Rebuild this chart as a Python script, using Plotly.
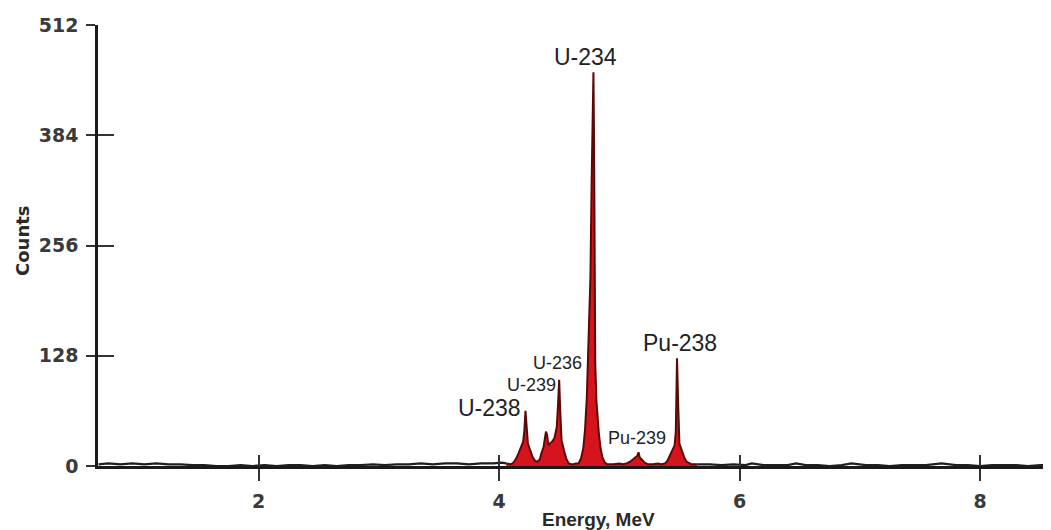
import numpy as np
import plotly.graph_objects as go

# ---- data (energy in MeV, counts) ----
energy = [0.67, 0.75, 0.85, 0.95, 1.05, 1.15, 1.25, 1.35, 1.45, 1.55, 1.65, 1.75, 1.85, 1.95,
          2.05, 2.15, 2.25, 2.35, 2.45, 2.55, 2.65, 2.75, 2.85, 2.95, 3.05, 3.15, 3.25, 3.35,
          3.45, 3.55, 3.65, 3.75, 3.85, 3.95, 4.02, 4.06,
          4.10, 4.12, 4.14, 4.16, 4.18, 4.20, 4.21, 4.22, 4.23, 4.24, 4.26, 4.28, 4.30, 4.32, 4.34,
          4.35, 4.37, 4.38, 4.39, 4.40, 4.41, 4.42, 4.44, 4.46, 4.48, 4.49, 4.50, 4.51, 4.52,
          4.54, 4.56, 4.58, 4.60, 4.62, 4.64,
          4.66, 4.68, 4.70, 4.715, 4.73, 4.745, 4.76, 4.77, 4.78, 4.785, 4.79, 4.795, 4.80,
          4.81, 4.82, 4.83, 4.845, 4.86, 4.88, 4.90, 4.95, 5.00, 5.03,
          5.06, 5.09, 5.12, 5.15, 5.16, 5.17, 5.19, 5.21, 5.24, 5.28, 5.32, 5.35,
          5.38, 5.40, 5.42, 5.44, 5.46, 5.47, 5.48, 5.49, 5.50, 5.52, 5.54, 5.56, 5.58, 5.60,
          5.65, 5.75, 5.85, 5.95, 6.05, 6.10, 6.20, 6.30, 6.40, 6.47, 6.55, 6.65, 6.75, 6.85,
          6.93, 7.05, 7.15, 7.25, 7.35, 7.45, 7.55, 7.68, 7.80, 7.90, 8.00, 8.10, 8.20, 8.30,
          8.40, 8.50, 8.59]
counts = [2, 3, 2, 3, 2, 3, 2, 2, 1, 1, 0, 0, 1, 0,
          1, 0, 1, 1, 0, 1, 0, 1, 1, 2, 1, 2, 2, 3,
          2, 3, 3, 2, 3, 3, 4, 3,
          2, 4, 8, 14, 20, 28, 40, 64, 45, 26, 18, 10, 6, 5, 8,
          14, 22, 30, 40, 36, 24, 26, 28, 32, 45, 70, 100, 60, 30,
          18, 8, 3, 2, 2, 3,
          3, 8, 20, 42, 80, 140, 220, 330, 440, 457, 380, 250, 120,
          75, 50, 38, 20, 10, 4, 2, 2, 3, 2,
          3, 5, 8, 12, 16, 10, 7, 4, 2, 2, 3, 2,
          3, 6, 12, 18, 24, 40, 125, 70, 26, 18, 10, 5, 3, 2,
          2, 2, 1, 2, 1, 3, 1, 1, 1, 3, 1, 1, 0, 1,
          3, 1, 1, 0, 1, 1, 1, 3, 1, 1, 0, 1, 1, 1,
          0, 1, 1]

peak_window = [4.06, 5.65]          # energy span drawn as filled (red) peaks
y_ticks = [0, 128, 256, 384, 512]
x_ticks = [2, 4, 6, 8]

labels = ["U-234", "Pu-238", "U-238", "U-236", "U-239", "Pu-239"]
label_x = [4.715, 5.505, 3.917, 4.482, 4.266, 5.148]
label_y = [475, 143, 67, 120, 94, 32.5]
label_size = [23, 23, 23, 18, 18, 18]

E = np.array(energy)
C = np.array(counts)
mask = (E >= peak_window[0]) & (E <= peak_window[1])

fig = go.Figure()

# background (black line) – left and right parts
left = E <= peak_window[0]
right = E >= peak_window[1]
for m in (left, right):
    fig.add_trace(go.Scatter(x=E[m], y=C[m], mode="lines",
                             line=dict(color="#1e1e1e", width=2.2),
                             hoverinfo="skip", showlegend=False))

# peak region (red filled)
fig.add_trace(go.Scatter(x=E[mask], y=C[mask], mode="lines", fill="tozeroy",
                         fillcolor="#d6141e",
                         line=dict(color="#5a0808", width=2),
                         hoverinfo="skip", showlegend=False))

# dummy trace to instantiate overlay axes for crossing tick marks
fig.add_trace(go.Scatter(x=[None], y=[None], xaxis="x2", yaxis="y2",
                         hoverinfo="skip", showlegend=False))

xr = [0.665, 8.59]
yr = [0, 512]
tickfont = dict(family="DejaVu Sans", size=19, color="#3a3a3a", weight="bold")

# page body has an 8px margin: figure is sized so the plot area lands in place
fig.update_layout(
    width=1043, height=522,
    margin=dict(l=90, r=0, t=17, b=64),
    paper_bgcolor="white", plot_bgcolor="white",
    xaxis=dict(range=xr, showgrid=False, zeroline=False, showline=True,
               linecolor="#1a1a1a", linewidth=3,
               tickvals=x_ticks, ticks="outside", ticklen=12, tickwidth=2,
               tickcolor="#333", tickfont=tickfont, ticklabelstandoff=4),
    yaxis=dict(range=yr, showgrid=False, zeroline=False, showline=True,
               linecolor="#1a1a1a", linewidth=2.5,
               tickvals=y_ticks, ticks="outside", ticklen=9, tickwidth=2,
               tickcolor="#333", tickfont=tickfont, ticklabelstandoff=4),
    xaxis2=dict(range=xr, overlaying="x", anchor="y2", showgrid=False,
                zeroline=False, showline=False, tickvals=x_ticks,
                ticks="inside", ticklen=11, tickwidth=2, tickcolor="#333",
                showticklabels=False, side="bottom"),
    yaxis2=dict(range=yr, overlaying="y", anchor="x2", showgrid=False,
                zeroline=False, showline=False, tickvals=y_ticks[1:-1],
                ticks="inside", ticklen=16, tickwidth=2, tickcolor="#333",
                showticklabels=False, side="left"),
)

for t, x, y, s in zip(labels, label_x, label_y, label_size):
    fig.add_annotation(x=x, y=y, xref="x", yref="y", text=t, showarrow=False,
                       xanchor="center", yanchor="middle",
                       font=dict(family="Liberation Sans", size=s, color="#222"))

fig.add_annotation(x=0.5247, y=-0.122, xref="paper", yref="paper",
                   text="<b>Energy, MeV</b>", showarrow=False,
                   xanchor="center", yanchor="middle",
                   font=dict(family="Liberation Sans", size=19, color="#2a2a2a"))
fig.add_annotation(x=-0.08, y=0.512, xref="paper", yref="paper",
                   text="<b>Counts</b>", showarrow=False, textangle=-90,
                   xanchor="center", yanchor="middle",
                   font=dict(family="DejaVu Sans", size=18, color="#2a2a2a"))

fig.write_html("out.html")
